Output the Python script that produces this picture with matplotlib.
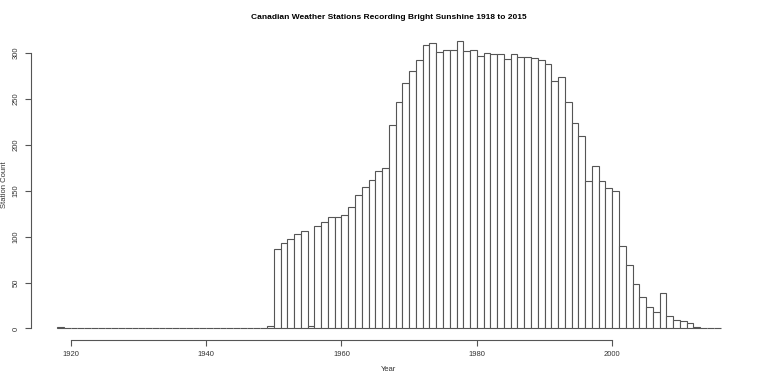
import matplotlib
matplotlib.use("Agg")
import matplotlib.pyplot as plt

# station counts per year, 1918-2015
years = list(range(1918, 2016))
counts_1918_1949 = [2] + [0] * 30 + [3]
counts_1950_1966 = [86, 93, 97, 103, 106, 3, 112, 116, 121, 121, 123, 132,
                    145, 154, 162, 171, 175]
counts_1967_1994 = [221, 247, 267, 280, 292, 309, 311, 301, 303, 303, 313,
                    302, 303, 297, 300, 299, 299, 293, 299, 296, 296, 294,
                    292, 288, 269, 274, 247, 224]
counts_1995_2015 = [210, 160, 177, 160, 153, 150, 90, 69, 48, 34, 23, 18,
                    39, 14, 9, 8, 6, 2, 1, 0, 0]
counts = counts_1918_1949 + counts_1950_1966 + counts_1967_1994 + counts_1995_2015

plt.rcParams['font.family'] = ['Liberation Sans', 'DejaVu Sans']

fig = plt.figure(figsize=(7.6, 3.79), dpi=100)
ax = fig.add_axes([0.0403, 0.103, 0.9427, 0.817])

ax.bar(years, counts, width=1, align='edge', color='white',
       edgecolor='#555555', linewidth=0.8)

ax.set_xlim(1914.08, 2019.92)
ax.set_ylim(-12.5, 324.5)

ax.spines['top'].set_visible(False)
ax.spines['right'].set_visible(False)
ax.spines['left'].set_bounds(0, 300)
ax.spines['bottom'].set_bounds(1920, 2000)
for s in ('left', 'bottom'):
    ax.spines[s].set_color('#555555')
    ax.spines[s].set_linewidth(0.8)

ax.set_xticks([1920, 1940, 1960, 1980, 2000])
ax.set_yticks([0, 50, 100, 150, 200, 250, 300])
ax.tick_params(axis='both', length=4, width=0.8, color='#555555',
               labelsize=5.5, labelcolor='#333333', pad=4)
for lbl in ax.get_yticklabels():
    lbl.set_rotation(90)
    lbl.set_va('center')

ax.set_xlabel('Year', fontsize=5.5, color='#333333', labelpad=6)
ax.set_ylabel('Station Count', fontsize=5.5, color='#333333')
ax.yaxis.set_label_coords(-0.031, 0.5)
ax.set_title('Canadian Weather Stations Recording Bright Sunshine 1918 to 2015',
             fontsize=6, fontweight='bold', pad=8)

fig.savefig('out.png', dpi=100)
